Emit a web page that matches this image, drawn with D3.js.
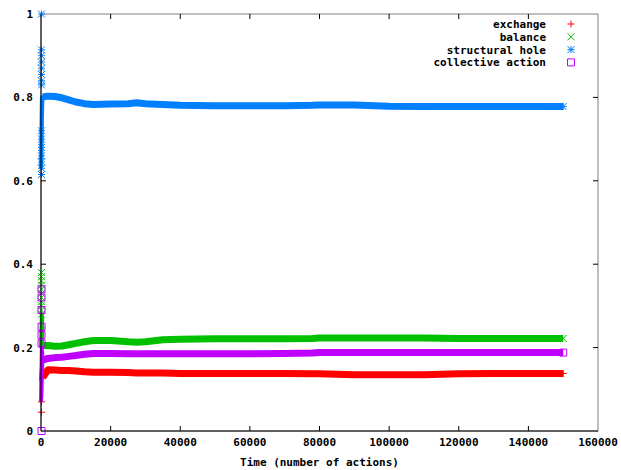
<!DOCTYPE html>
<html>
<head>
<meta charset="utf-8">
<script src="https://cdn.jsdelivr.net/npm/d3@7"></script>
<style>
  body { margin: 0; background: #fff; }
  text { font-family: "DejaVu Sans Mono", monospace; font-weight: bold; font-size: 11px; fill: #000; }
</style>
</head>
<body>
<div id="chart"></div>
<script>
// ------------------------------------------------------------
// Data
// ------------------------------------------------------------
const seriesNames = ["exchange", "balance", "structural hole", "collective action"];
const seriesColors = ["#ff0000", "#00c000", "#0080ff", "#c000ff"];
const seriesSymbols = ["plus", "cross", "star", "square"];

// main (settled) part of each series
const times = [500, 2000, 4000, 6000, 8000, 10000, 12500, 15000, 20000, 25000, 27500, 30000,
  35000, 40000, 50000, 60000, 70000, 78000, 80000, 90000, 100000, 110000, 120000, 130000, 140000, 150000];
const exchangeVals = [0.128, 0.147, 0.146, 0.145, 0.145, 0.144, 0.142, 0.141, 0.141, 0.140, 0.139, 0.139,
  0.139, 0.138, 0.138, 0.138, 0.138, 0.137, 0.137, 0.135, 0.135, 0.135, 0.137, 0.138, 0.138, 0.138];
const balanceVals = [0.205, 0.205, 0.203, 0.204, 0.207, 0.210, 0.214, 0.217, 0.217, 0.214, 0.213, 0.214,
  0.219, 0.220, 0.221, 0.221, 0.221, 0.222, 0.223, 0.223, 0.223, 0.223, 0.222, 0.222, 0.222, 0.222];
const holeVals = [0.801, 0.803, 0.802, 0.799, 0.794, 0.789, 0.785, 0.783, 0.784, 0.785, 0.787, 0.785,
  0.783, 0.781, 0.780, 0.780, 0.780, 0.781, 0.782, 0.782, 0.779, 0.778, 0.778, 0.778, 0.778, 0.778];
const collectiveVals = [0.170, 0.174, 0.176, 0.177, 0.179, 0.181, 0.184, 0.186, 0.186, 0.185, 0.185, 0.185,
  0.185, 0.185, 0.185, 0.185, 0.186, 0.187, 0.188, 0.188, 0.188, 0.188, 0.188, 0.188, 0.188, 0.188];

// the first few hundred actions: dense vertical spread
const earlyTimes = [0, 250, 100, 350, 150, 400, 200];
const exchangeEarly = [0.12, 0.15, 0.125, 0.148, 0.13, 0.146, 0.128];
const balanceEarly = [0.20, 0.28, 0.21, 0.27, 0.22, 0.25, 0.205];
const holeEarly = [0.63, 0.80, 0.65, 0.79, 0.70, 0.80, 0.78];
const collectiveEarly = [0.07, 0.20, 0.08, 0.19, 0.10, 0.18, 0.17];

// isolated early points drawn with their symbol
const exchangeMarks = [0.045, 0.07];
const balanceMarks = [0.38, 0.37, 0.36, 0.35, 0.34, 0.33, 0.32, 0.31, 0.30, 0.29, 0.28];
const holeMarks = [1.0, 0.914, 0.90, 0.885, 0.87, 0.855, 0.84, 0.83, 0.72, 0.70, 0.68, 0.66, 0.645, 0.63, 0.615];
const collectiveMarks = [0.34, 0.32, 0.29, 0.25, 0.23, 0.21, 0.0];

const xTicks = [0, 20000, 40000, 60000, 80000, 100000, 120000, 140000, 160000];
const yTicks = [0, 0.2, 0.4, 0.6, 0.8, 1];
const xLabel = "Time (number of actions)";

// ------------------------------------------------------------
// Layout
// ------------------------------------------------------------
const width = 621, height = 470;
const margin = { top: 14, right: 23, bottom: 39, left: 41 };

const svg = d3.select("#chart").append("svg")
  .attr("width", width)
  .attr("height", height);

const x = d3.scaleLinear().domain([0, 160000]).range([margin.left, width - margin.right]);
const y = d3.scaleLinear().domain([0, 1]).range([height - margin.bottom, margin.top]);

// ------------------------------------------------------------
// Frame and ticks (gnuplot style: inward, mirrored)
// ------------------------------------------------------------
svg.append("rect")
  .attr("x", x(0)).attr("y", y(1))
  .attr("width", x(160000) - x(0)).attr("height", y(0) - y(1))
  .attr("fill", "none").attr("stroke", "#808080").attr("stroke-width", 1);

const tickLen = 5;
const ticks = svg.append("g").attr("stroke", "#000").attr("stroke-width", 1);
xTicks.slice(1, -1).forEach(t => {
  ticks.append("line").attr("x1", x(t)).attr("x2", x(t)).attr("y1", y(0)).attr("y2", y(0) - tickLen);
  ticks.append("line").attr("x1", x(t)).attr("x2", x(t)).attr("y1", y(1)).attr("y2", y(1) + tickLen);
});
yTicks.slice(1, -1).forEach(v => {
  ticks.append("line").attr("x1", x(0)).attr("x2", x(0) + tickLen).attr("y1", y(v)).attr("y2", y(v));
  ticks.append("line").attr("x1", x(160000)).attr("x2", x(160000) - tickLen).attr("y1", y(v)).attr("y2", y(v));
});

svg.append("g").selectAll("text")
  .data(xTicks)
  .enter().append("text")
  .attr("x", d => x(d))
  .attr("y", y(0) + 15)
  .attr("text-anchor", "middle")
  .text(d => d);

svg.append("g").selectAll("text")
  .data(yTicks)
  .enter().append("text")
  .attr("x", x(0) - 8)
  .attr("y", d => y(d) + 4)
  .attr("text-anchor", "end")
  .text(d => d);

svg.append("text")
  .attr("x", (x(0) + x(160000)) / 2)
  .attr("y", height - 4)
  .attr("text-anchor", "middle")
  .text(xLabel);

// ------------------------------------------------------------
// Symbols
// ------------------------------------------------------------
function drawSymbol(g, type, cx, cy, color) {
  const s = 3.5;
  const p = g.append("path")
    .attr("fill", "none")
    .attr("stroke", color)
    .attr("stroke-width", 1);
  if (type === "plus") {
    p.attr("d", `M${cx - s},${cy}H${cx + s}M${cx},${cy - s}V${cy + s}`);
  } else if (type === "cross") {
    p.attr("d", `M${cx - s},${cy - s}L${cx + s},${cy + s}M${cx - s},${cy + s}L${cx + s},${cy - s}`);
  } else if (type === "star") {
    p.attr("d", `M${cx - s},${cy}H${cx + s}M${cx},${cy - s}V${cy + s}` +
      `M${cx - s},${cy - s}L${cx + s},${cy + s}M${cx - s},${cy + s}L${cx + s},${cy - s}`);
  } else {
    p.attr("d", `M${cx - s},${cy - s}H${cx + s}V${cy + s}H${cx - s}Z`);
  }
}

// ------------------------------------------------------------
// Series
// ------------------------------------------------------------
const mainVals = [exchangeVals, balanceVals, holeVals, collectiveVals];
const earlyVals = [exchangeEarly, balanceEarly, holeEarly, collectiveEarly];
const markVals = [exchangeMarks, balanceMarks, holeMarks, collectiveMarks];

const line = d3.line().x(d => x(d[0])).y(d => y(d[1]));

const plot = svg.append("g");
seriesNames.forEach((name, i) => {
  const color = seriesColors[i];
  const g = plot.append("g");

  // dense early spread
  g.append("path")
    .datum(earlyTimes.map((t, j) => [t, earlyVals[i][j]]))
    .attr("d", line)
    .attr("fill", "none")
    .attr("stroke", color)
    .attr("stroke-width", 4)
    .attr("stroke-linejoin", "round");

  // settled band
  g.append("path")
    .datum(times.map((t, j) => [t, mainVals[i][j]]))
    .attr("d", line)
    .attr("fill", "none")
    .attr("stroke", color)
    .attr("stroke-width", 7)
    .attr("stroke-linejoin", "round");

  // isolated early points
  markVals[i].forEach(v => drawSymbol(g, seriesSymbols[i], x(0) + 0.5, y(v), color));
  // end point
  drawSymbol(g, seriesSymbols[i], x(times[times.length - 1]), y(mainVals[i][times.length - 1]), color);
});

// axis lines drawn over the marks
svg.append("line")
  .attr("x1", x(0)).attr("x2", x(0)).attr("y1", y(0)).attr("y2", y(1))
  .attr("stroke", "#000");
svg.append("line")
  .attr("x1", x(0)).attr("x2", x(160000)).attr("y1", y(0)).attr("y2", y(0))
  .attr("stroke", "#000");

// ------------------------------------------------------------
// Legend
// ------------------------------------------------------------
const legend = svg.append("g");
seriesNames.forEach((name, i) => {
  const ly = 24 + i * 12.8;
  legend.append("text")
    .attr("x", 546)
    .attr("y", ly + 4)
    .attr("text-anchor", "end")
    .text(name);
  drawSymbol(legend, seriesSymbols[i], 571, ly, seriesColors[i]);
});
</script>
</body>
</html>
